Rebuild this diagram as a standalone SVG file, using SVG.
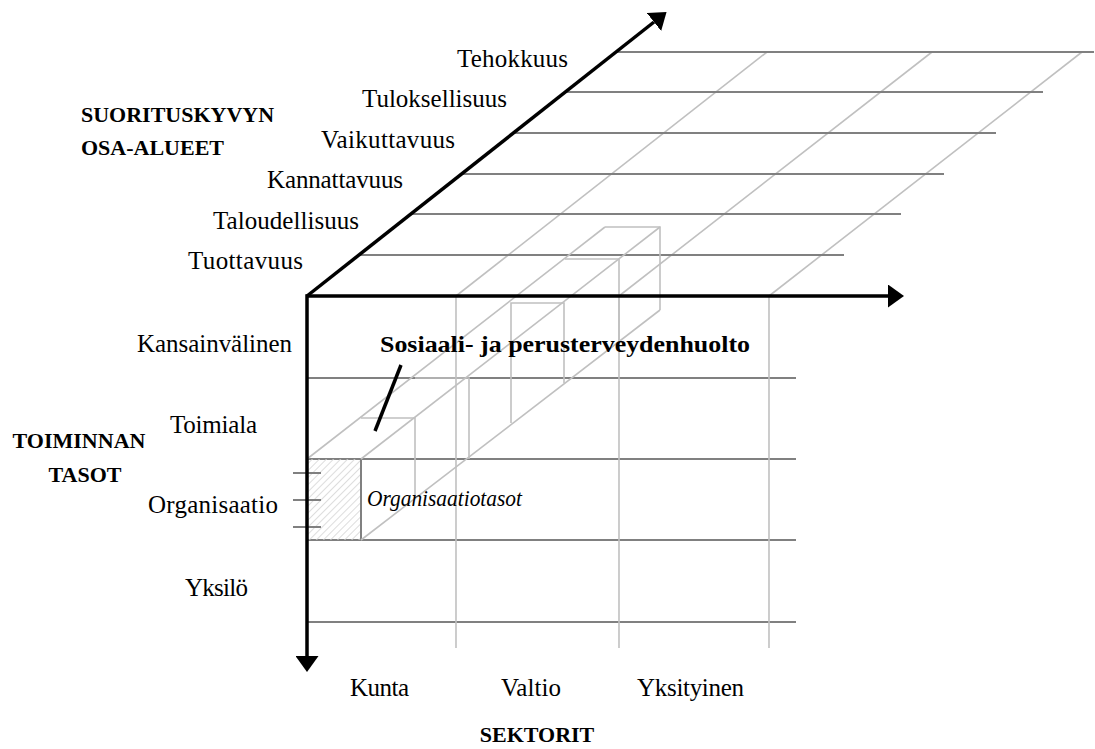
<svg xmlns="http://www.w3.org/2000/svg" width="1095" height="749" viewBox="0 0 1095 749">
  <defs>
    <marker id="head" markerUnits="userSpaceOnUse" markerWidth="16" markerHeight="23" viewBox="0 0 16 23" refX="0" refY="11.5" orient="auto-start-reverse">
      <path d="M0,0 L16,11.5 L0,23 z" fill="#000"/>
    </marker>
    <pattern id="hatch" patternUnits="userSpaceOnUse" width="5" height="5" patternTransform="rotate(45)">
      <line x1="0" y1="0" x2="0" y2="5" stroke="#d4d4d4" stroke-width="1.6"/>
    </pattern>
  </defs>
  <style>
    .dark{stroke:#808080;stroke-width:2;fill:none}
    .light{stroke:#c0c0c0;stroke-width:1.6;fill:none}
    .axis{stroke:#000;stroke-width:3.5;fill:none}
    text{font-family:"Liberation Serif","Times New Roman",serif;font-size:25px;fill:#000}
    .b{font-weight:bold;font-size:22px}
    .end{text-anchor:end}
    .mid{text-anchor:middle}
  </style>

  <!-- top face: performance dimensions receding in depth -->
  <g id="top-face">
    <g class="light">
      <line x1="456" y1="296" x2="767" y2="52"/>
      <line x1="619" y1="296" x2="932" y2="52"/>
      <line x1="769" y1="296" x2="1082" y2="52"/>
    </g>
    <g class="dark">
      <line x1="616" y1="52" x2="1094" y2="52"/>
      <line x1="566" y1="92" x2="1043" y2="92"/>
      <line x1="514" y1="133" x2="996" y2="133"/>
      <line x1="462" y1="174" x2="944" y2="174"/>
      <line x1="411" y1="214" x2="901" y2="214"/>
      <line x1="359" y1="255" x2="844" y2="255"/>
    </g>
  </g>

  <!-- front face: levels x sectors -->
  <g id="front-face">
    <g class="dark">
      <line x1="307" y1="378" x2="796" y2="378"/>
      <line x1="307" y1="459" x2="796" y2="459"/>
      <line x1="307" y1="540" x2="796" y2="540"/>
      <line x1="307" y1="622" x2="796" y2="622"/>
    </g>
    <g class="light">
      <line x1="456" y1="296" x2="456" y2="648"/>
      <line x1="619" y1="296" x2="619" y2="648"/>
      <line x1="769" y1="296" x2="769" y2="648"/>
    </g>
  </g>

  <!-- service column: social and primary health care -->
  <g id="column">
    <rect x="307" y="459" width="54" height="81" fill="url(#hatch)"/>
    <line class="dark" x1="361" y1="459" x2="361" y2="540"/>
    <g class="light">
      <line x1="307" y1="459" x2="605" y2="227"/>
      <line x1="361" y1="459" x2="660" y2="227"/>
      <line x1="361" y1="540" x2="660" y2="310"/>
      <polyline points="361,418 415,418 415,498"/>
      <polyline points="415,378 469,378 469,459"/>
      <polyline points="511,423 511,303 564,303 564,383"/>
      <polyline points="565,259 619,259 619,340"/>
      <polyline points="605,227 660,227 660,310"/>
    </g>
    <g class="dark">
      <line x1="293" y1="473" x2="321" y2="473"/>
      <line x1="293" y1="500" x2="321" y2="500"/>
      <line x1="293" y1="527" x2="321" y2="527"/>
    </g>
  </g>

  <!-- axes -->
  <g id="axes">
    <path class="axis" d="M307,656 L307,296 L888,296" marker-start="url(#head)" marker-end="url(#head)"/>
    <line class="axis" x1="307" y1="296" x2="654" y2="22" marker-end="url(#head)"/>
  </g>

  <!-- callout -->
  <g id="callout">
    <line x1="401" y1="365" x2="375" y2="431" stroke="#000" stroke-width="3.5"/>
    <text x="380" y="352" class="b" style="font-size:24px" textLength="370" lengthAdjust="spacingAndGlyphs">Sosiaali- ja perusterveydenhuolto</text>
    <text x="367" y="506" font-style="italic" style="font-size:24px" textLength="155" lengthAdjust="spacingAndGlyphs">Organisaatiotasot</text>
  </g>

  <!-- depth axis labels -->
  <g id="depth-labels">
    <text x="568" y="67" class="end" textLength="111">Tehokkuus</text>
    <text x="507" y="107" class="end" textLength="145">Tuloksellisuus</text>
    <text x="455" y="148" class="end" textLength="134">Vaikuttavuus</text>
    <text x="403" y="188" class="end" textLength="136">Kannattavuus</text>
    <text x="359" y="229" class="end" textLength="146">Taloudellisuus</text>
    <text x="303" y="269" class="end" textLength="115">Tuottavuus</text>
    <text x="81" y="122" class="b">SUORITUSKYVYN</text>
    <text x="81" y="155" class="b">OSA-ALUEET</text>
  </g>

  <!-- level labels -->
  <g id="level-labels">
    <text x="292" y="352" class="end" textLength="155">Kansainvälinen</text>
    <text x="257" y="433" class="end" textLength="87">Toimiala</text>
    <text x="278" y="513" class="end" textLength="130">Organisaatio</text>
    <text x="248" y="596" class="end" textLength="63">Yksilö</text>
    <text x="79" y="448" class="b mid">TOIMINNAN</text>
    <text x="85" y="482" class="b mid">TASOT</text>
  </g>

  <!-- sector labels -->
  <g id="sector-labels">
    <text x="350" y="696" textLength="59">Kunta</text>
    <text x="501" y="696" textLength="60">Valtio</text>
    <text x="637" y="696" textLength="107">Yksityinen</text>
    <text x="537" y="742" class="b mid">SEKTORIT</text>
  </g>
</svg>
